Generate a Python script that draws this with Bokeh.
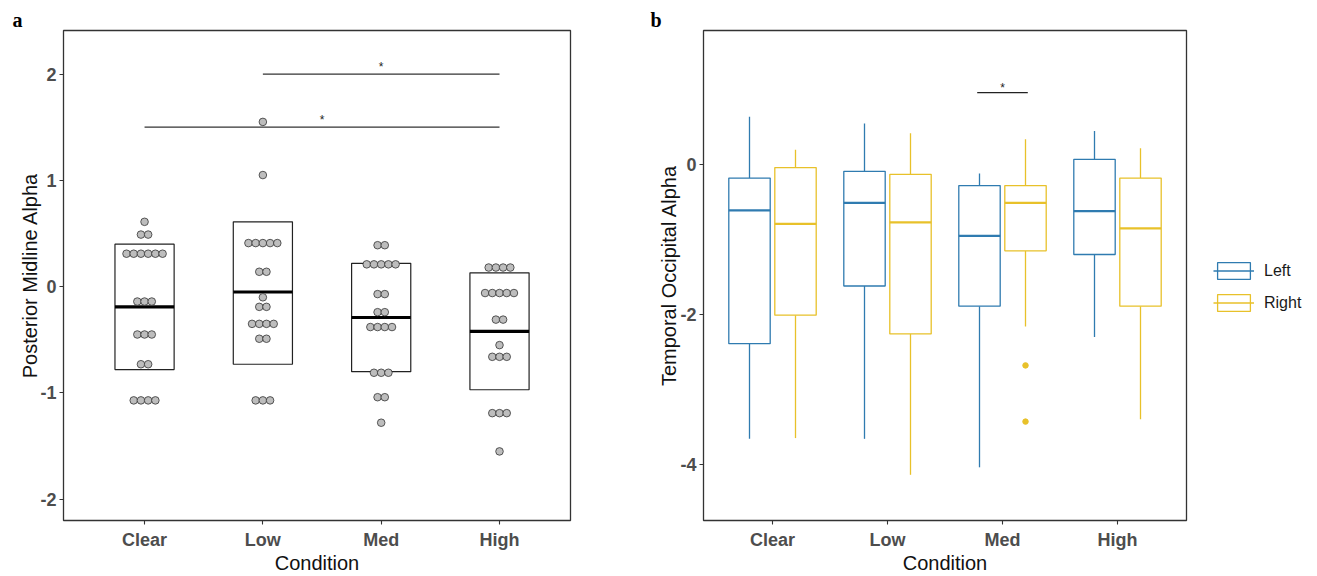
from collections import Counter

from bokeh.embed import file_html
from bokeh.layouts import row
from bokeh.models import (ColumnDataSource, FixedTicker, Legend, LegendItem,
                          Range1d, Title)
from bokeh.plotting import figure
from bokeh.resources import INLINE

conditions = ["Clear", "Low", "Med", "High"]

# ---- panel a: posterior midline alpha, one value per participant ----
clear_vals = [0.61, 0.49, 0.49, 0.31, 0.31, 0.31, 0.31, 0.31, 0.31,
              -0.14, -0.14, -0.14, -0.45, -0.45, -0.45, -0.73, -0.73,
              -1.07, -1.07, -1.07, -1.07]
low_vals = [1.55, 1.05, 0.41, 0.41, 0.41, 0.41, 0.41, 0.14, 0.14,
            -0.10, -0.19, -0.19, -0.35, -0.35, -0.35, -0.35, -0.49, -0.49,
            -1.07, -1.07, -1.07]
med_vals = [0.39, 0.39, 0.21, 0.21, 0.21, 0.21, 0.21, -0.07, -0.07,
            -0.24, -0.24, -0.38, -0.38, -0.38, -0.38, -0.81, -0.81, -0.81,
            -1.04, -1.04, -1.28]
high_vals = [0.18, 0.18, 0.18, 0.18, -0.06, -0.06, -0.06, -0.06, -0.06,
             -0.31, -0.31, -0.55, -0.66, -0.66, -0.66, -1.19, -1.19, -1.19,
             -1.55]

# crossbar: mean and mean +/- SD
bar_mean = [-0.19, -0.05, -0.29, -0.42]
bar_low = [-0.78, -0.73, -0.80, -0.97]
bar_high = [0.40, 0.61, 0.22, 0.13]

# significance brackets (from condition, to condition, height)
sig_a_from = ["Low", "Clear"]
sig_a_to = ["High", "High"]
sig_a_y = [2.0, 1.5]

# ---- panel b: temporal occipital alpha by hemisphere ----
left_upper = [0.64, 0.55, -0.12, 0.45]
left_q3 = [-0.18, -0.09, -0.28, 0.07]
left_med = [-0.61, -0.51, -0.95, -0.62]
left_q1 = [-2.39, -1.62, -1.89, -1.20]
left_lower = [-3.66, -3.66, -4.04, -2.30]

right_upper = [0.20, 0.42, 0.34, 0.22]
right_q3 = [-0.04, -0.13, -0.28, -0.18]
right_med = [-0.79, -0.77, -0.51, -0.85]
right_q1 = [-2.01, -2.26, -1.15, -1.89]
right_lower = [-3.65, -4.14, -2.16, -3.40]

right_outlier_cond = ["Med", "Med"]
right_outlier_vals = [-2.68, -3.43]

sig_b_cond = "Med"
sig_b_y = 0.96

hemispheres = ["Left", "Right"]

BLUE = "#2f7bb0"
YELLOW = "#e8c12a"
FONT = "Liberation Sans"
NAN = float("nan")

xpos = {c: i + 1 for i, c in enumerate(conditions)}


def style(p, ylabel, yticks, title_standoff):
    p.xgrid.visible = False
    p.ygrid.visible = False
    p.outline_line_color = "#333333"
    p.outline_line_width = 1.3
    p.xaxis.ticker = FixedTicker(ticks=[xpos[c] for c in conditions])
    p.xaxis.major_label_overrides = {xpos[c]: c for c in conditions}
    p.yaxis.ticker = FixedTicker(ticks=yticks)
    p.yaxis.major_label_overrides = {t: str(t) for t in yticks}
    p.xaxis.axis_label = "Condition"
    p.yaxis.axis_label = ylabel
    for ax in p.axis:
        ax.axis_line_color = None
        ax.major_tick_line_color = "#333333"
        ax.major_tick_line_width = 1.1
        ax.major_tick_out = 4
        ax.major_tick_in = 0
        ax.minor_tick_line_color = None
        ax.major_label_text_font = FONT
        ax.major_label_text_font_style = "bold"
        ax.major_label_text_font_size = "18px"
        ax.major_label_text_color = "#4d4d4d"
        ax.axis_label_text_font = FONT
        ax.axis_label_text_font_style = "normal"
        ax.axis_label_text_font_size = "20px"
        ax.axis_label_text_color = "#111111"
    p.xaxis.major_label_standoff = 5
    p.xaxis.axis_label_standoff = -1
    p.yaxis.major_label_standoff = 3
    p.yaxis.axis_label_standoff = title_standoff


def panel_letter(p, letter, shift):
    p.add_layout(Title(text=letter, align="left", offset=shift,
                       text_font="Liberation Serif", text_font_style="bold",
                       text_font_size="20px", text_color="black",
                       standoff=0), "above")


# ================= panel a =================
pa = figure(width=640, height=576, output_backend="svg", toolbar_location=None,
            x_range=Range1d(0.315, 4.6), y_range=Range1d(-2.2, 2.41),
            min_border_left=63, min_border_right=70,
            min_border_top=30, min_border_bottom=53)
style(pa, "Posterior Midline Alpha", [-2, -1, 0, 1, 2], -4)
panel_letter(pa, "a", -51)

half = 0.25
bx = [xpos[c] for c in conditions]
pa.quad(left=[x - half for x in bx], right=[x + half for x in bx],
        bottom=bar_low, top=bar_high, fill_color=None,
        line_color="#222222", line_width=1.2)
pa.segment(x0=[x - half for x in bx], x1=[x + half for x in bx],
           y0=bar_mean, y1=bar_mean, line_color="black", line_width=3.2)

# stacked dots: equal values are laid side by side around the category
step = 0.061
dx, dy = [], []
for cond, vals in zip(conditions, [clear_vals, low_vals, med_vals, high_vals]):
    for v, n in Counter(vals).items():
        for k in range(n):
            dx.append(xpos[cond] + (k - (n - 1) / 2) * step)
            dy.append(v)
pa.scatter(dx, dy, size=7.6, fill_color="#bdbdbd", line_color="#333333",
           line_width=0.8)

for a, b, y in zip(sig_a_from, sig_a_to, sig_a_y):
    pa.segment(x0=[xpos[a]], x1=[xpos[b]], y0=[y], y1=[y],
               line_color="#333333", line_width=1.2)
    pa.text(x=[(xpos[a] + xpos[b]) / 2], y=[y + 0.07], text=["*"],
            text_align="center", text_baseline="middle",
            text_font_size="12px", text_color="#222222")

# ================= panel b =================
pb = figure(width=560, height=576, output_backend="svg", toolbar_location=None,
            x_range=Range1d(0.4, 4.6), y_range=Range1d(-4.75, 1.79),
            min_border_left=63, min_border_right=14,
            min_border_top=30, min_border_bottom=53)
style(pb, "Temporal Occipital Alpha", [-4, -2, 0], -3)
panel_letter(pb, "b", -53)

dodge = 0.2
bw = 0.18
colors = {"Left": BLUE, "Right": YELLOW}
for name, off, up, q3, med, q1, lo in [
        ("Left", -dodge, left_upper, left_q3, left_med, left_q1, left_lower),
        ("Right", dodge, right_upper, right_q3, right_med, right_q1, right_lower)]:
    color = colors[name]
    xs = [xpos[c] + off for c in conditions]
    src = ColumnDataSource(dict(x=xs, l=[x - bw for x in xs], r=[x + bw for x in xs],
                                up=up, q3=q3, med=med, q1=q1, lo=lo))
    pb.segment(x0="x", x1="x", y0="q3", y1="up", source=src,
               line_color=color, line_width=1.3)
    pb.segment(x0="x", x1="x", y0="q1", y1="lo", source=src,
               line_color=color, line_width=1.3)
    pb.quad(left="l", right="r", bottom="q1", top="q3", source=src,
            fill_color="white", line_color=color, line_width=1.3)
    pb.segment(x0="l", x1="r", y0="med", y1="med", source=src,
               line_color=color, line_width=2.2)

pb.scatter([xpos[c] + dodge for c in right_outlier_cond], right_outlier_vals,
           size=5.5, fill_color=YELLOW, line_color=YELLOW)

pb.segment(x0=[xpos[sig_b_cond] - 0.22], x1=[xpos[sig_b_cond] + 0.22],
           y0=[sig_b_y], y1=[sig_b_y], line_color="#222222", line_width=1.2)
pb.text(x=[xpos[sig_b_cond]], y=[sig_b_y + 0.06], text=["*"],
        text_align="center", text_baseline="middle",
        text_font_size="12px", text_color="#222222")

# ================= legend strip =================
pl = figure(width=117, height=576, output_backend="svg", toolbar_location=None,
            x_range=Range1d(0, 1), y_range=Range1d(0, 1),
            min_border_left=0, min_border_right=0,
            min_border_top=0, min_border_bottom=0)
pl.axis.visible = False
pl.grid.visible = False
pl.outline_line_color = None

# legend key proxies: one undrawn (NaN) row each, only their styling is used
items = []
for name in hemispheres:
    color = colors[name]
    key_box = pl.quad(left=[NAN], right=[NAN], bottom=[NAN], top=[NAN],
                      fill_color="white", line_color=color, line_width=1.3)
    key_mid = pl.segment(x0=[NAN], x1=[NAN], y0=[NAN], y1=[NAN],
                         line_color=color, line_width=1.3)
    items.append(LegendItem(label=name, renderers=[key_box, key_mid]))

legend = Legend(items=items, location=(13, 207), glyph_width=41, glyph_height=21,
                label_height=21, label_standoff=10, spacing=11,
                margin=0, padding=10, border_line_color=None,
                background_fill_alpha=0, label_text_font=FONT,
                label_text_font_size="16px", label_text_color="#1a1a1a")
pl.add_layout(legend, "center")

layout = row(pa, pb, pl)
open("out.html", "w").write(file_html(layout, INLINE))
